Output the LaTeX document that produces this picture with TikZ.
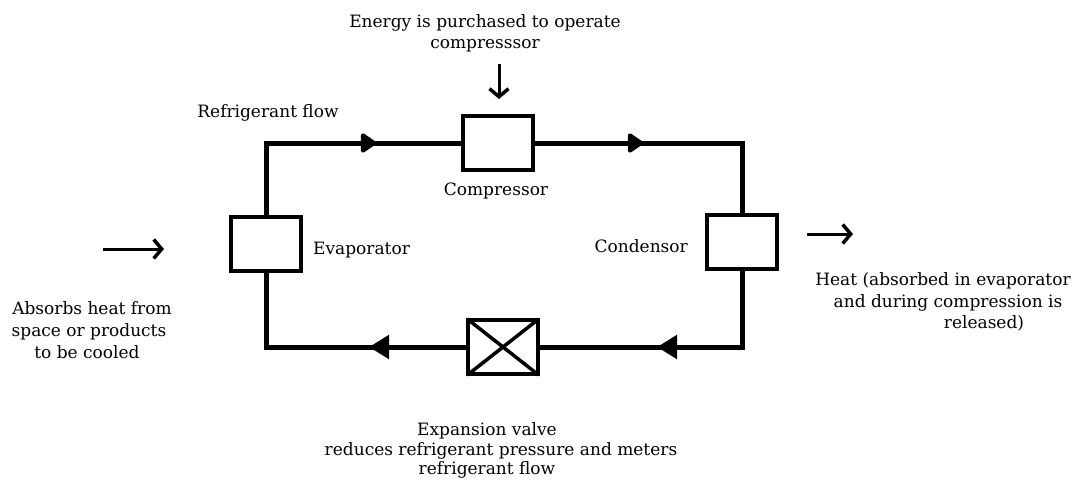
\documentclass[tikz,border=0pt]{standalone}
\usepackage{fontspec}
\setmainfont{DejaVu Serif}
\usetikzlibrary{arrows.meta}
\begin{document}
\begin{tikzpicture}[x=1pt,y=-1pt,
  pipe/.style={line width=5pt},
  unit/.style={draw,line width=4.5pt,minimum width=70pt,minimum height=54pt,inner sep=0pt,fill=white},
  tiptop/.style={line width=5pt,-{Triangle[length=17pt,width=22pt,round]}},
  tipbot/.style={line width=5pt,-{Triangle[length=20pt,width=23pt]}},
  hint/.style={line width=3pt,-{Straight Barb[length=8pt,width=19pt,line width=3.5pt]}},
  lbl/.style={font=\fontsize{17}{21}\selectfont,inner sep=0pt,anchor=base}]
\useasboundingbox (0,0) rectangle (1076,483);
\fill[white] (0,0) rectangle (1076,483);
% units
\node[unit] (evap) at (266,244) {};
\node[unit] (comp) at (498,143) {};
\node[unit] (cond) at (742,242) {};
\node[unit] (valve) at (503,347) {};
% loop
\draw[pipe] (evap.north) |- (comp.west);
\draw[pipe] (comp.east) -| (cond.north);
\draw[pipe] (cond.south) |- (valve.east);
\draw[pipe] (valve.west) -| (evap.south);
\draw[line width=3.5pt,shorten <=2pt,shorten >=2pt] (valve.north west) -- (valve.south east);
\draw[line width=3.5pt,shorten <=2pt,shorten >=2pt] (valve.north east) -- (valve.south west);
% flow arrowheads
\coordinate (a1b) at (340,143); \coordinate (a1) at (376,143);
\coordinate (a2b) at (607,143); \coordinate (a2) at (643,143);
\coordinate (a3b) at (695,347); \coordinate (a3) at (657,347);
\coordinate (a4b) at (407,347); \coordinate (a4) at (369,347);
\draw[tiptop] (a1b) -- (a1);
\draw[tiptop] (a2b) -- (a2);
\draw[tipbot] (a3b) -- (a3);
\draw[tipbot] (a4b) -- (a4);
% hint arrows
\coordinate (e1) at (499,64);
\coordinate (e2) at (499,99);
\draw[hint] (e1) -- (e2);
\coordinate (l1) at (103,249);
\coordinate (l2) at (164,249);
\draw[hint] (l1) -- (l2);
\coordinate (r1) at (807,234);
\coordinate (r2) at (853,234);
\draw[hint] (r1) -- (r2);
% labels
\node[lbl] (energy1) at (485,27) {Energy is purchased to operate};
\node[lbl] (energy2) at (485,48) {compresssor};
\node[lbl] (rflow) at (268,117) {Refrigerant flow};
\node[lbl] (complbl) at (496,195) {Compressor};
\node[lbl,anchor=base west] (evaplbl) at (313,254) {Evaporator};
\node[lbl,anchor=base east] (condlbl) at (688,252) {Condensor};
\node[lbl] (absorb1) at (92,314) {Absorbs heat from};
\node[lbl] (absorb2) at (89,336) {space or products};
\node[lbl] (absorb3) at (87,358) {to be cooled};
\node[lbl] (heat1) at (943,285) {Heat (absorbed in evaporator};
\node[lbl] (heat2) at (948,307) {and during compression is};
\node[lbl] (heat3) at (984,328) {released)};
\node[lbl] (expl1) at (487,435) {Expansion valve};
\node[lbl] (expl2) at (501,455) {reduces refrigerant pressure and meters};
\node[lbl] (expl3) at (487,474) {refrigerant flow};
\end{tikzpicture}
\end{document}
